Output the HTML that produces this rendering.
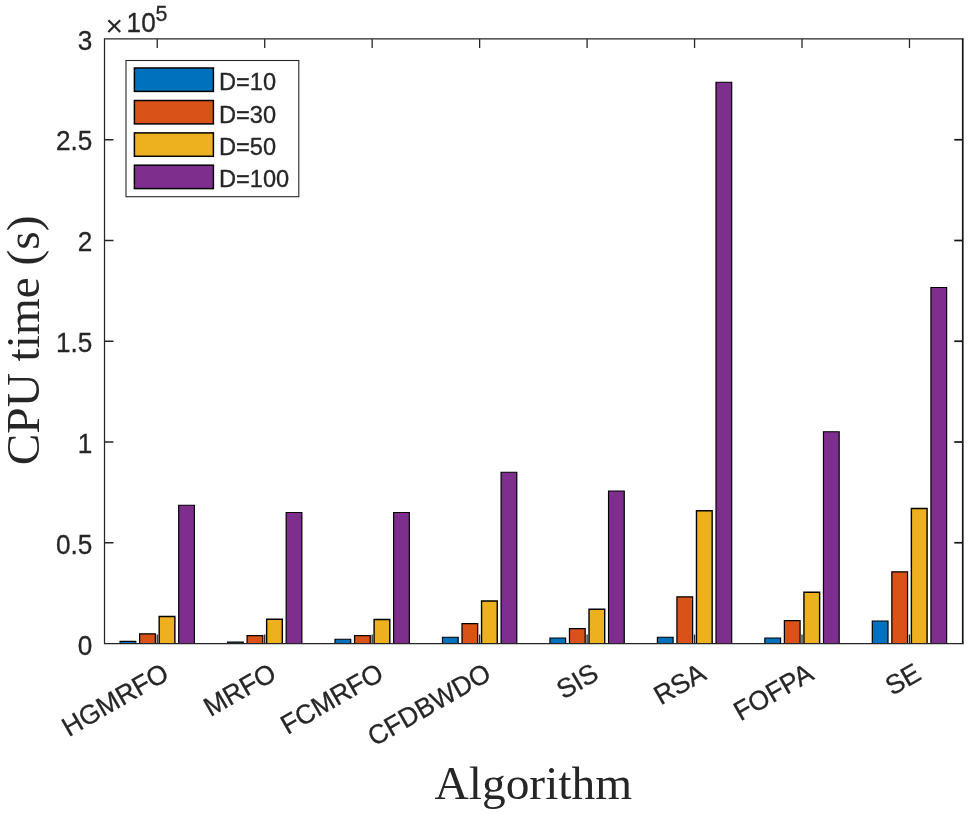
<!DOCTYPE html>
<html><head><meta charset="utf-8"><title>CPU time</title>
<style>
html,body{margin:0;padding:0;background:#fff;}
svg{display:block;}
text{fill:#262626;}
.s{font-family:"Liberation Sans", Arial, Helvetica, sans-serif;stroke:#262626;stroke-width:0.3px;}
.r{font-family:"Liberation Serif", "Times New Roman", Times, serif;}
</style></head><body>
<svg width="968" height="814" viewBox="0 0 968 814">
<rect x="0" y="0" width="968" height="814" fill="#fff"/>
<g stroke="#262626" fill="none">
<line x1="157.25" y1="643.5" x2="157.25" y2="634.5" stroke-width="1.3"/>
<line x1="157.25" y1="39.0" x2="157.25" y2="48.0" stroke-width="1.3"/>
<line x1="264.71" y1="643.5" x2="264.71" y2="634.5" stroke-width="1.3"/>
<line x1="264.71" y1="39.0" x2="264.71" y2="48.0" stroke-width="1.3"/>
<line x1="372.17" y1="643.5" x2="372.17" y2="634.5" stroke-width="1.3"/>
<line x1="372.17" y1="39.0" x2="372.17" y2="48.0" stroke-width="1.3"/>
<line x1="479.63" y1="643.5" x2="479.63" y2="634.5" stroke-width="1.3"/>
<line x1="479.63" y1="39.0" x2="479.63" y2="48.0" stroke-width="1.3"/>
<line x1="587.09" y1="643.5" x2="587.09" y2="634.5" stroke-width="1.3"/>
<line x1="587.09" y1="39.0" x2="587.09" y2="48.0" stroke-width="1.3"/>
<line x1="694.55" y1="643.5" x2="694.55" y2="634.5" stroke-width="1.3"/>
<line x1="694.55" y1="39.0" x2="694.55" y2="48.0" stroke-width="1.3"/>
<line x1="802.01" y1="643.5" x2="802.01" y2="634.5" stroke-width="1.3"/>
<line x1="802.01" y1="39.0" x2="802.01" y2="48.0" stroke-width="1.3"/>
<line x1="909.47" y1="643.5" x2="909.47" y2="634.5" stroke-width="1.3"/>
<line x1="909.47" y1="39.0" x2="909.47" y2="48.0" stroke-width="1.3"/>
<line x1="104.5" y1="542.75" x2="113.5" y2="542.75" stroke-width="1.5"/>
<line x1="962.75" y1="542.75" x2="954.25" y2="542.75" stroke-width="1.7" stroke="#151515"/>
<line x1="104.5" y1="442.00" x2="113.5" y2="442.00" stroke-width="1.5"/>
<line x1="962.75" y1="442.00" x2="954.25" y2="442.00" stroke-width="1.7" stroke="#151515"/>
<line x1="104.5" y1="341.25" x2="113.5" y2="341.25" stroke-width="1.5"/>
<line x1="962.75" y1="341.25" x2="954.25" y2="341.25" stroke-width="1.7" stroke="#151515"/>
<line x1="104.5" y1="240.50" x2="113.5" y2="240.50" stroke-width="1.5"/>
<line x1="962.75" y1="240.50" x2="954.25" y2="240.50" stroke-width="1.7" stroke="#151515"/>
<line x1="104.5" y1="139.75" x2="113.5" y2="139.75" stroke-width="1.5"/>
<line x1="962.75" y1="139.75" x2="954.25" y2="139.75" stroke-width="1.7" stroke="#151515"/>
</g>
<g stroke="#000">
<path d="M120.09,643.5 V641.40 H135.79 V643.5" fill="#0072BD" stroke-width="1.2"/>
<path d="M139.63,643.5 V633.75 H155.33 V643.5" fill="#D95319" stroke-width="1.25"/>
<path d="M159.17,643.5 V616.50 H174.87 V643.5" fill="#EDB120" stroke-width="1.4"/>
<path d="M178.71,643.5 V505.25 H194.41 V643.5" fill="#7E2F8E" stroke-width="1.2"/>
<path d="M227.55,643.5 V642.20 H243.25 V643.5" fill="#0072BD" stroke-width="1.2"/>
<path d="M247.09,643.5 V635.50 H262.79 V643.5" fill="#D95319" stroke-width="1.25"/>
<path d="M266.63,643.5 V619.25 H282.33 V643.5" fill="#EDB120" stroke-width="1.4"/>
<path d="M286.17,643.5 V512.50 H301.87 V643.5" fill="#7E2F8E" stroke-width="1.2"/>
<path d="M335.01,643.5 V639.25 H350.71 V643.5" fill="#0072BD" stroke-width="1.2"/>
<path d="M354.55,643.5 V635.50 H370.25 V643.5" fill="#D95319" stroke-width="1.25"/>
<path d="M374.09,643.5 V619.50 H389.79 V643.5" fill="#EDB120" stroke-width="1.4"/>
<path d="M393.63,643.5 V512.50 H409.33 V643.5" fill="#7E2F8E" stroke-width="1.2"/>
<path d="M442.47,643.5 V637.25 H458.17 V643.5" fill="#0072BD" stroke-width="1.2"/>
<path d="M462.01,643.5 V623.50 H477.71 V643.5" fill="#D95319" stroke-width="1.25"/>
<path d="M481.55,643.5 V601.00 H497.25 V643.5" fill="#EDB120" stroke-width="1.4"/>
<path d="M501.09,643.5 V472.25 H516.79 V643.5" fill="#7E2F8E" stroke-width="1.2"/>
<path d="M549.93,643.5 V638.00 H565.63 V643.5" fill="#0072BD" stroke-width="1.2"/>
<path d="M569.47,643.5 V628.50 H585.17 V643.5" fill="#D95319" stroke-width="1.25"/>
<path d="M589.01,643.5 V609.25 H604.71 V643.5" fill="#EDB120" stroke-width="1.4"/>
<path d="M608.55,643.5 V491.00 H624.25 V643.5" fill="#7E2F8E" stroke-width="1.2"/>
<path d="M657.39,643.5 V637.25 H673.09 V643.5" fill="#0072BD" stroke-width="1.2"/>
<path d="M676.93,643.5 V596.75 H692.63 V643.5" fill="#D95319" stroke-width="1.25"/>
<path d="M696.47,643.5 V510.75 H712.17 V643.5" fill="#EDB120" stroke-width="1.4"/>
<path d="M716.01,643.5 V82.25 H731.71 V643.5" fill="#7E2F8E" stroke-width="1.2"/>
<path d="M764.85,643.5 V638.00 H780.55 V643.5" fill="#0072BD" stroke-width="1.2"/>
<path d="M784.39,643.5 V620.50 H800.09 V643.5" fill="#D95319" stroke-width="1.25"/>
<path d="M803.93,643.5 V592.25 H819.63 V643.5" fill="#EDB120" stroke-width="1.4"/>
<path d="M823.47,643.5 V431.75 H839.17 V643.5" fill="#7E2F8E" stroke-width="1.2"/>
<path d="M872.31,643.5 V621.00 H888.01 V643.5" fill="#0072BD" stroke-width="1.2"/>
<path d="M891.85,643.5 V571.75 H907.55 V643.5" fill="#D95319" stroke-width="1.25"/>
<path d="M911.39,643.5 V508.50 H927.09 V643.5" fill="#EDB120" stroke-width="1.4"/>
<path d="M930.93,643.5 V287.50 H946.63 V643.5" fill="#7E2F8E" stroke-width="1.2"/>
</g>
<path d="M962.75,38.9 H104.5 V643.5 H962.75" fill="none" stroke="#262626" stroke-width="1.25" stroke-linecap="square"/>
<line x1="962.75" y1="38.5" x2="962.75" y2="644.1" stroke="#151515" stroke-width="1.7"/>
<text class="s" transform="translate(92.40,654.70) scale(0.97,1)" font-size="27" text-anchor="end">0</text>
<text class="s" transform="translate(92.40,553.75) scale(0.97,1)" font-size="27" text-anchor="end">0.5</text>
<text class="s" transform="translate(92.40,452.60) scale(0.97,1)" font-size="27" text-anchor="end">1</text>
<text class="s" transform="translate(92.40,352.45) scale(0.97,1)" font-size="27" text-anchor="end">1.5</text>
<text class="s" transform="translate(92.40,250.60) scale(0.97,1)" font-size="27" text-anchor="end">2</text>
<text class="s" transform="translate(92.40,149.85) scale(0.97,1)" font-size="27" text-anchor="end">2.5</text>
<text class="s" transform="translate(92.40,49.60) scale(0.97,1)" font-size="27" text-anchor="end">3</text>
<text class="s" style="stroke:none" fill="#333" transform="translate(105.6,36.1)" font-size="30">×</text>
<text class="s" transform="translate(126.6,32) scale(0.97,1)" font-size="27">10</text>
<text class="s" transform="translate(155.4,20.8) scale(0.97,1)" font-size="22">5</text>
<text class="s" font-size="27" text-anchor="end" transform="translate(166.00,670.6) rotate(-30) scale(0.98,1)" x="0" y="9">HGMRFO</text>
<text class="s" font-size="27" text-anchor="end" transform="translate(273.46,670.6) rotate(-30) scale(0.98,1)" x="0" y="9">MRFO</text>
<text class="s" font-size="27" text-anchor="end" transform="translate(380.92,670.6) rotate(-30) scale(0.98,1)" x="0" y="9">FCMRFO</text>
<text class="s" font-size="27" text-anchor="end" transform="translate(488.38,670.6) rotate(-30) scale(0.98,1)" x="0" y="9">CFDBWDO</text>
<text class="s" font-size="27" text-anchor="end" transform="translate(595.84,670.6) rotate(-30) scale(0.98,1)" x="0" y="9">SIS</text>
<text class="s" font-size="27" text-anchor="end" transform="translate(703.30,670.6) rotate(-30) scale(0.98,1)" x="0" y="9">RSA</text>
<text class="s" font-size="27" text-anchor="end" transform="translate(810.76,670.6) rotate(-30) scale(0.98,1)" x="0" y="9">FOFPA</text>
<text class="s" font-size="27" text-anchor="end" transform="translate(918.22,670.6) rotate(-30) scale(0.98,1)" x="0" y="9">SE</text>
<text class="r" x="533.3" y="798.6" font-size="47.4" text-anchor="middle">Algorithm</text>
<text class="r" font-size="47.3" text-anchor="middle" transform="translate(39,340.4) rotate(-90)">CPU time (s)</text>
<rect x="126" y="60.5" width="172.8" height="136.2" fill="#fff" stroke="#262626" stroke-width="1.1"/>
<rect x="134.4" y="68.00" width="79" height="23.4" fill="#0072BD" stroke="#000" stroke-width="1.5"/>
<text class="s" transform="translate(218.9,90.20) scale(0.993,1)" font-size="23.8">D=10</text>
<rect x="134.4" y="100.50" width="79" height="23.4" fill="#D95319" stroke="#000" stroke-width="1.5"/>
<text class="s" transform="translate(218.9,122.50) scale(0.993,1)" font-size="23.8">D=30</text>
<rect x="134.4" y="132.90" width="79" height="23.4" fill="#EDB120" stroke="#000" stroke-width="1.5"/>
<text class="s" transform="translate(218.9,154.80) scale(0.993,1)" font-size="23.8">D=50</text>
<rect x="134.4" y="165.20" width="79" height="23.4" fill="#7E2F8E" stroke="#000" stroke-width="1.5"/>
<text class="s" transform="translate(218.9,187.10) scale(0.993,1)" font-size="23.8">D=100</text>
</svg></body></html>
